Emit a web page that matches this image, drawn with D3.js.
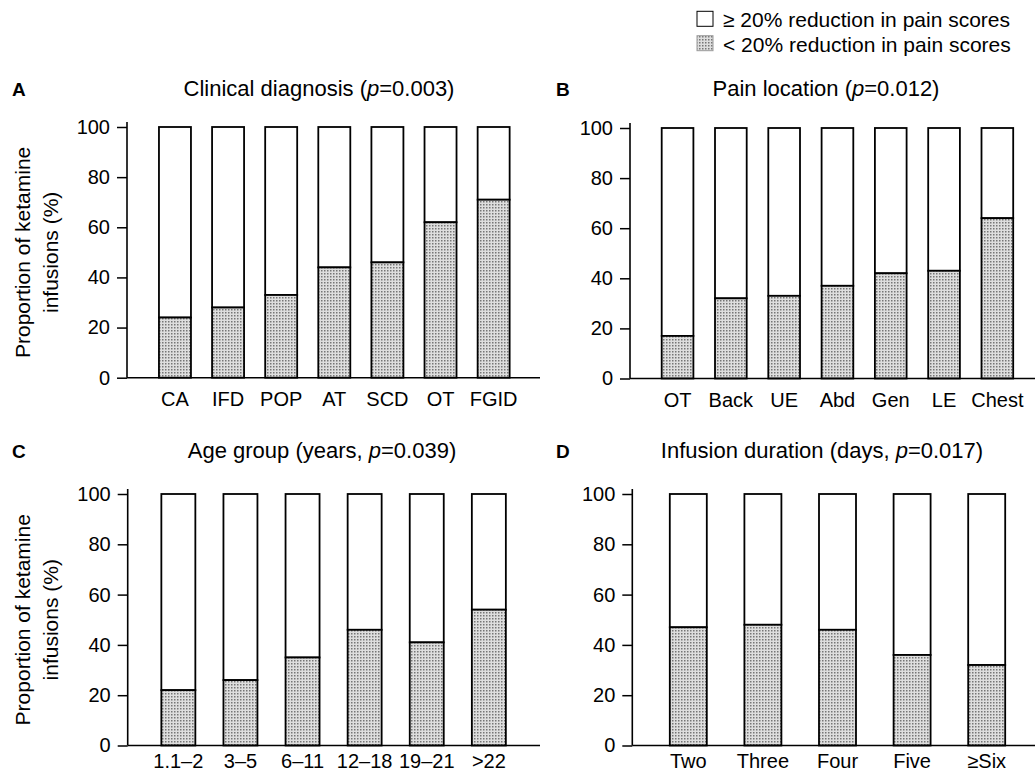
<!DOCTYPE html>
<html>
<head>
<meta charset="utf-8">
<script src="https://cdn.jsdelivr.net/npm/d3@7"></script>
<style>
    body { margin: 0; background: #ffffff; }
    text { font-family: "Liberation Sans", Arial, Helvetica, sans-serif; fill: #000000; }
</style>
</head>
<body>
<div id="chartContainer"></div>
<script>
//data -> share of infusions with < 20% reduction, rest is >= 20%
const diagnosisCats = ["CA", "IFD", "POP", "AT", "SCD", "OT", "FGID"];
const diagnosisLow = [24, 28, 33, 44, 46, 62, 71];

const locationCats = ["OT", "Back", "UE", "Abd", "Gen", "LE", "Chest"];
const locationLow = [17, 32, 33, 37, 42, 43, 64];

const ageCats = ["1.1\u20132", "3\u20135", "6\u201311", "12\u201318", "19\u201321", ">22"];
const ageLow = [22, 26, 35, 46, 41, 54];

const durationCats = ["Two", "Three", "Four", "Five", "\u2265Six"];
const durationLow = [47, 48, 46, 36, 32];

const yTicks = [0, 20, 40, 60, 80, 100];
const legendLabels = ["\u2265 20% reduction in pain scores", "< 20% reduction in pain scores"];

const width = 1035, height = 772;

const $svg = d3.select("#chartContainer")
    .append("svg")
    .attr("width", width)
    .attr("height", height);

//stipple pattern for the < 20% part
const pattern = $svg.append("defs")
    .append("pattern")
    .attr("id", "stipple")
    .attr("patternUnits", "userSpaceOnUse")
    .attr("width", 3)
    .attr("height", 3);
pattern.append("rect").attr("width", 3).attr("height", 3).attr("fill", "#dedede");
pattern.append("rect").attr("width", 1.5).attr("height", 1.5).attr("fill", "#767676");

/** PANELS */
const panels = [
    { letter: "A", title: "Clinical diagnosis (", tail: "=0.003)", cats: diagnosisCats, low: diagnosisLow,
      axisX: 127, x0: 148.4, x1: 520.2, bw: 32, yBottom: 377.7, yTop: 127, axisEnd: 540,
      letterX: 12, titleX: 319, titleY: 96, labelPad: 14, yLabel: true },
    { letter: "B", title: "Pain location (", tail: "=0.012)", cats: locationCats, low: locationLow,
      axisX: 630, x0: 650.9, x1: 1024, bw: 31.7, yBottom: 378.5, yTop: 128, axisEnd: 1035,
      letterX: 556, titleX: 826, titleY: 96, labelPad: 14, yLabel: false },
    { letter: "C", title: "Age group (years, ", tail: "=0.039)", cats: ageCats, low: ageLow,
      axisX: 127.7, x0: 147.3, x1: 519.9, bw: 34, yBottom: 745.5, yTop: 494, axisEnd: 540,
      letterX: 12, titleX: 322, titleY: 458, labelPad: 8, yLabel: true },
    { letter: "D", title: "Infusion duration (days, ", tail: "=0.017)", cats: durationCats, low: durationLow,
      axisX: 632.3, x0: 651, x1: 1024, bw: 37, yBottom: 745.5, yTop: 494, axisEnd: 1035,
      letterX: 556, titleX: 822, titleY: 458, labelPad: 8, yLabel: false }
];

const drawPanel = p => {
    const n = p.cats.length;
    const step = (p.x1 - p.x0) / n;
    const pad = 1 - p.bw / step;

    const x = d3.scaleBand()
        .domain(p.cats)
        .range([p.x0, p.x1])
        .paddingInner(pad)
        .paddingOuter(pad / 2);

    const y = d3.scaleLinear()
        .domain([0, 100])
        .range([p.yBottom, p.yTop]);

    const g = $svg.append("g");

    //bars: white top part then stippled bottom part
    const rows = p.cats.map((c, i) => ({ cat: c, low: p.low[i] }));

    g.selectAll(".high")
        .data(rows)
        .enter()
        .append("rect")
        .attr("x", d => x(d.cat))
        .attr("y", y(100))
        .attr("width", x.bandwidth())
        .attr("height", d => y(d.low) - y(100))
        .attr("fill", "#ffffff")
        .attr("stroke", "#000000")
        .attr("stroke-width", 1.8);

    g.selectAll(".low")
        .data(rows)
        .enter()
        .append("rect")
        .attr("x", d => x(d.cat))
        .attr("y", d => y(d.low))
        .attr("width", x.bandwidth())
        .attr("height", d => y(0) - y(d.low))
        .attr("fill", "url(#stipple)")
        .attr("stroke", "#000000")
        .attr("stroke-width", 1.8);

    //y axis
    const yAxis = g.append("g")
        .attr("transform", `translate(${p.axisX},0)`)
        .call(d3.axisLeft(y).tickValues(yTicks).tickSize(10).tickPadding(7).tickSizeOuter(0));
    yAxis.select(".domain").remove();
    yAxis.selectAll(".tick line").attr("stroke", "#000").attr("stroke-width", 1.5);
    yAxis.selectAll(".tick text").attr("font-size", 20).attr("font-family", null).attr("fill", "#000");

    g.append("line")
        .attr("x1", p.axisX).attr("x2", p.axisX)
        .attr("y1", y(0)).attr("y2", y(100) - 5)
        .attr("stroke", "#000").attr("stroke-width", 1.6);

    //x axis (labels only, no ticks)
    const xAxis = g.append("g")
        .attr("transform", `translate(0,${y(0)})`)
        .call(d3.axisBottom(x).tickSize(0).tickPadding(p.labelPad));
    xAxis.select(".domain").remove();
    xAxis.selectAll(".tick text").attr("font-size", 20).attr("font-family", null).attr("fill", "#000");

    g.append("line")
        .attr("x1", p.axisX).attr("x2", p.axisEnd)
        .attr("y1", y(0)).attr("y2", y(0))
        .attr("stroke", "#000").attr("stroke-width", 1.6);

    //panel letter + title
    g.append("text")
        .attr("x", p.letterX)
        .attr("y", p.titleY)
        .attr("font-size", 19)
        .attr("font-weight", "bold")
        .text(p.letter);

    const title = g.append("text")
        .attr("x", p.titleX)
        .attr("y", p.titleY)
        .attr("font-size", 22)
        .style("text-anchor", "middle");
    title.append("tspan").text(p.title);
    title.append("tspan").attr("font-style", "italic").text("p");
    title.append("tspan").text(p.tail);

    //y axis label
    if (p.yLabel) {
        const cy = (y(0) + y(100)) / 2;
        [["Proportion of ketamine", 29.5], ["infusions (%)", 58]].forEach(([t, lx]) => {
            g.append("text")
                .attr("transform", `translate(${lx},${cy}) rotate(-90)`)
                .attr("font-size", 21)
                .style("text-anchor", "middle")
                .text(t);
        });
    }
};

panels.forEach(drawPanel);

//legend
const legend = $svg.append("g");
legendLabels.forEach((label, i) => {
    const base = 27.3 + i * 24.4;
    legend.append("rect")
        .attr("x", 697)
        .attr("y", base - 16)
        .attr("width", 16)
        .attr("height", 15)
        .attr("fill", i === 0 ? "#ffffff" : "url(#stipple)")
        .attr("stroke", i === 0 ? "#000" : "#999")
        .attr("stroke-width", 1);
    legend.append("text")
        .attr("x", 723)
        .attr("y", base)
        .attr("font-size", 21)
        .text(label);
});
</script>
</body>
</html>
